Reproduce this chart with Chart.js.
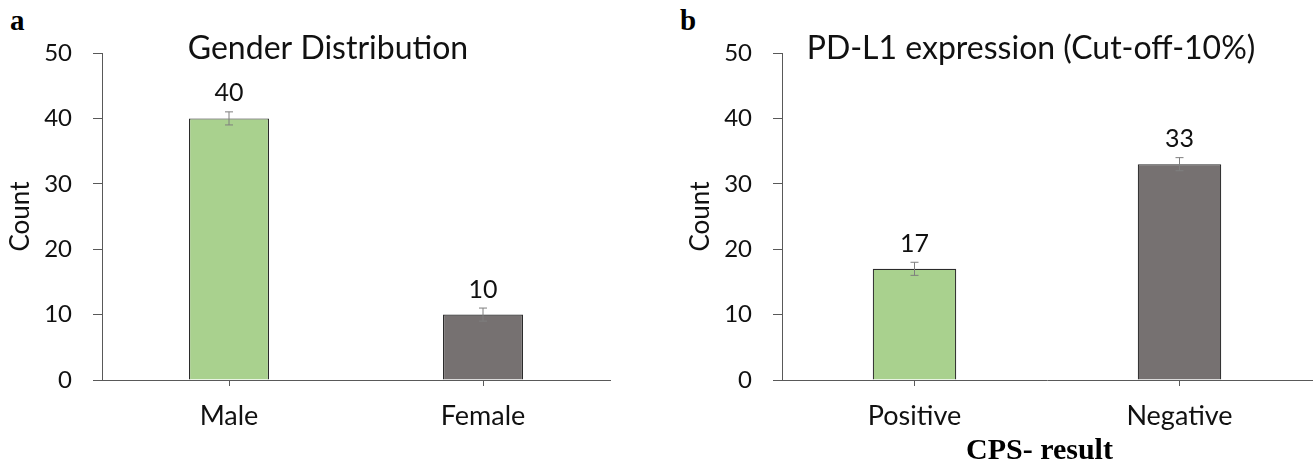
<!DOCTYPE html>
<html>
<head>
<meta charset="utf-8">
<script src="https://cdn.jsdelivr.net/npm/chart.js@4"></script>
<style>
  body { margin: 0; background: #fff; width: 1315px; height: 469px; overflow: hidden; position: relative; font-family: Lato, sans-serif; }
  .box { position: absolute; top: 0; height: 469px; }
  .letter { position: absolute; font-family: "Liberation Serif", serif; font-weight: bold; font-size: 29px; color: #000; }
  #cps { position: absolute; font-family: "Liberation Serif", serif; font-weight: bold; font-size: 30px; color: #000; }
</style>
</head>
<body>
<div class="letter" style="left:10px;top:4px;">a</div>
<div class="letter" style="left:680px;top:4px;">b</div>
<div class="box" style="left:0;width:650px;"><canvas id="chartA" width="650" height="469"></canvas></div>
<div class="box" style="left:680px;width:635px;"><canvas id="chartB" width="635" height="469"></canvas></div>
<script>
// panel a
const genderLabels = ['Male', 'Female'];
const genderCounts = [40, 10];
const genderErrors = [1, 1];
// panel b
const cpsLabels = ['Positive', 'Negative'];
const cpsCounts = [17, 33];
const cpsErrors = [1, 1];

const yMax = 50;
const yStep = 10;

const green = '#a9d18e';
const grey = '#767171';
const axisColor = '#595959';

Chart.defaults.font.family = 'Lato, sans-serif';
Chart.defaults.color = '#111';

// error bars + value labels on top of each bar
const barExtras = {
    id: 'barExtras',
    afterDatasetsDraw(chart, args, opts) {
        const ctx = chart.ctx;
        const y = chart.scales.y;
        const ds = chart.data.datasets[0];
        const meta = chart.getDatasetMeta(0);
        ctx.save();
        meta.data.forEach((bar, i) => {
            const v = ds.data[i];
            const e = opts.errors[i];
            const top = y.getPixelForValue(v + e);
            const bot = y.getPixelForValue(v - e);
            ctx.strokeStyle = '#7f7f7f';
            ctx.lineWidth = 1;
            ctx.beginPath();
            ctx.moveTo(bar.x, top); ctx.lineTo(bar.x, bot);
            ctx.moveTo(bar.x - 4, top); ctx.lineTo(bar.x + 4, top);
            ctx.moveTo(bar.x - 4, bot); ctx.lineTo(bar.x + 4, bot);
            ctx.stroke();
            ctx.fillStyle = '#111';
            ctx.font = '25px Lato';
            ctx.textAlign = 'center';
            ctx.textBaseline = 'middle';
            ctx.fillText(String(v), bar.x, bar.y - 25);
        });
        ctx.restore();
    }
};

const panelTitle = {
    id: 'panelTitle',
    afterDraw(chart, args, opts) {
        const ctx = chart.ctx;
        ctx.save();
        ctx.fillStyle = '#111';
        ctx.font = '32px Lato';
        ctx.textAlign = 'center';
        ctx.textBaseline = 'middle';
        ctx.fillText(opts.text, opts.x, opts.y);
        ctx.restore();
    }
};

function makeChart(id, labels, counts, errors, title, titleX, rightPad) {
    return new Chart(document.getElementById(id), {
        type: 'bar',
        data: {
            labels: labels,
            datasets: [{
                data: counts,
                backgroundColor: [green, grey],
                borderColor: '#2b2b2b',
                borderWidth: 1.2,
                borderSkipped: 'bottom',
                barPercentage: 0.315,
                categoryPercentage: 1
            }]
        },
        options: {
            responsive: false,
            animation: false,
            layout: { padding: { top: 53, right: rightPad, bottom: 0, left: 0 } },
            plugins: {
                legend: { display: false },
                tooltip: { enabled: false },
                barExtras: { errors: errors },
                panelTitle: { text: title, x: titleX, y: 49 }
            },
            scales: {
                x: {
                    grid: { drawOnChartArea: false, offset: false, tickLength: 6, color: axisColor },
                    border: { color: axisColor, width: 1 },
                    ticks: { font: { size: 27 }, padding: 14, color: '#111' },
                    afterFit(scale) { scale.height = 89; }
                },
                y: {
                    min: 0,
                    max: yMax,
                    grid: { drawOnChartArea: false, tickLength: 9, color: axisColor },
                    border: { color: axisColor, width: 1 },
                    ticks: { stepSize: yStep, font: { size: 24 }, padding: 21, color: '#111' },
                    title: { display: true, text: 'Count', font: { size: 26 }, padding: { top: 5, bottom: 0 }, color: '#111' },
                    afterFit(scale) { scale.width = 102; }
                }
            }
        },
        plugins: [barExtras, panelTitle]
    });
}

makeChart('chartA', genderLabels, genderCounts, genderErrors, 'Gender Distribution', 328, 40);
makeChart('chartB', cpsLabels, cpsCounts, cpsErrors, 'PD-L1 expression (Cut-off-10%)', 351, 3);
</script>
<div id="cps" style="left:966px;top:432px;">CPS- result</div>
</body>
</html>
